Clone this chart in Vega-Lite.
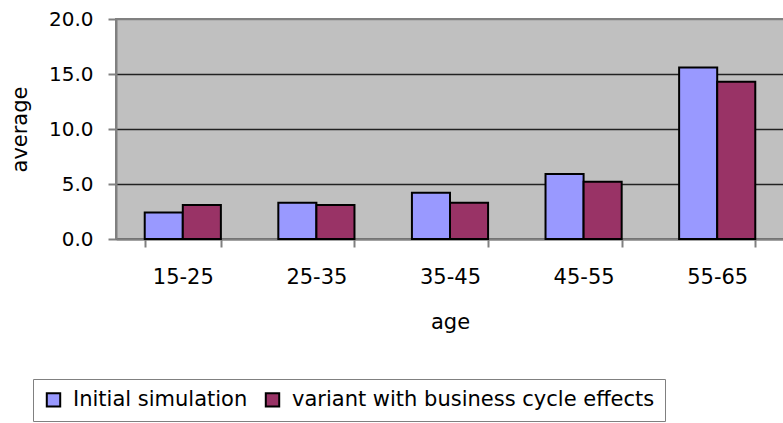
{
  "$schema": "https://vega.github.io/schema/vega-lite/v6.json",
  "width": 668,
  "height": 220,
  "autosize": {"type": "none"},
  "padding": {"left": 116, "top": 19, "right": 0, "bottom": 184},
  "background": "white",
  "config": {
    "font": "DejaVu Sans",
    "view": {"fill": "#C0C0C0", "stroke": "#808080", "strokeWidth": 2}
  },
  "data": {
    "values": [
      {"age": "15-25", "series": "Initial simulation", "average": 2.4},
      {"age": "15-25", "series": "variant with business cycle effects", "average": 3.1},
      {"age": "25-35", "series": "Initial simulation", "average": 3.3},
      {"age": "25-35", "series": "variant with business cycle effects", "average": 3.1},
      {"age": "35-45", "series": "Initial simulation", "average": 4.2},
      {"age": "35-45", "series": "variant with business cycle effects", "average": 3.3},
      {"age": "45-55", "series": "Initial simulation", "average": 5.9},
      {"age": "45-55", "series": "variant with business cycle effects", "average": 5.2},
      {"age": "55-65", "series": "Initial simulation", "average": 15.6},
      {"age": "55-65", "series": "variant with business cycle effects", "average": 14.3}
    ]
  },
  "mark": {"type": "bar", "stroke": "black", "strokeWidth": 2},
  "encoding": {
    "x": {
      "field": "age",
      "type": "nominal",
      "scale": {"paddingInner": 0.43, "paddingOuter": 0.215},
      "axis": {
        "title": "age",
        "labelAngle": 0,
        "tickBand": "extent",
        "domainColor": "#808080",
        "domainWidth": 2,
        "tickColor": "#808080",
        "tickWidth": 2,
        "tickSize": 8,
        "labelPadding": 19,
        "labelFontSize": 21,
        "labelColor": "black",
        "titleFontSize": 21,
        "titleFontWeight": "normal",
        "titleColor": "black",
        "titlePadding": 24,
        "grid": false
      }
    },
    "xOffset": {
      "field": "series",
      "type": "nominal",
      "sort": ["Initial simulation", "variant with business cycle effects"],
      "scale": {"paddingInner": 0, "paddingOuter": 0}
    },
    "y": {
      "field": "average",
      "type": "quantitative",
      "scale": {"domain": [0, 20]},
      "axis": {
        "title": "average",
        "values": [0, 5, 10, 15, 20],
        "format": ".1f",
        "domainColor": "#808080",
        "domainWidth": 2,
        "tickColor": "#808080",
        "tickWidth": 2,
        "tickSize": 8,
        "labelPadding": 15,
        "labelFontSize": 20,
        "labelColor": "black",
        "titleFontSize": 21,
        "titleFontWeight": "normal",
        "titleColor": "black",
        "titlePadding": 18,
        "grid": true,
        "gridColor": {"condition": {"test": "datum.value === 20", "value": "#808080"}, "value": "#222222"},
        "gridWidth": 1.5
      }
    },
    "color": {
      "field": "series",
      "type": "nominal",
      "scale": {
        "domain": ["Initial simulation", "variant with business cycle effects"],
        "range": ["#9999FF", "#993366"]
      },
      "legend": {
        "title": null,
        "orient": "none",
        "direction": "horizontal",
        "legendX": -83,
        "legendY": 360,
        "symbolType": "square",
        "symbolSize": 180,
        "symbolStrokeColor": "black",
        "symbolStrokeWidth": 2,
        "symbolOpacity": 1,
        "labelFontSize": 21,
        "labelColor": "black",
        "labelLimit": 500,
        "labelOffset": 9,
        "columnPadding": 13,
        "padding": 10,
        "strokeColor": "#808080",
        "fillColor": "white"
      }
    }
  }
}
